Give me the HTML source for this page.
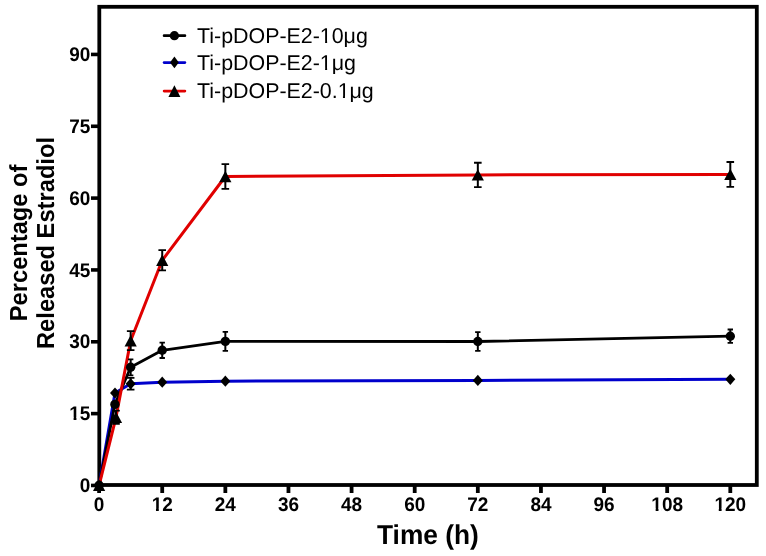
<!DOCTYPE html>
<html><head><meta charset="utf-8"><style>
html,body{margin:0;padding:0;background:#fff;}
svg{display:block;will-change:transform;}
text{font-family:"Liberation Sans",sans-serif;fill:#000;text-rendering:geometricPrecision;}
.tk{font-size:19px;font-weight:bold;}
.lg{font-size:21.4px;}
.ti{font-size:26.3px;font-weight:bold;}
.yt{font-size:23.7px;font-weight:bold;}
</style></head><body>
<svg width="766" height="556" viewBox="0 0 766 556">
<rect x="99.3" y="6.8" width="657.5" height="478.2" fill="none" stroke="#000" stroke-width="3.8"/>
<path d="M91 485.45H98" stroke="#000" stroke-width="3.6"/>
<text transform="translate(90.4 492.1) scale(1 1.04)" text-anchor="end" class="tk">0</text>
<path d="M91 413.62H98" stroke="#000" stroke-width="3.6"/>
<text transform="translate(90.4 420.27) scale(1 1.04)" text-anchor="end" class="tk">15</text>
<g transform="translate(90.4 420.27) scale(1 1.04) translate(-21.13 0) scale(0.009277)"><path d="M40 60V-300H466V60ZM771 60V-300H1135V60Z" fill="#fff"/></g>
<path d="M91 341.78H98" stroke="#000" stroke-width="3.6"/>
<text transform="translate(90.4 348.43) scale(1 1.04)" text-anchor="end" class="tk">30</text>
<path d="M91 269.94H98" stroke="#000" stroke-width="3.6"/>
<text transform="translate(90.4 276.6) scale(1 1.04)" text-anchor="end" class="tk">45</text>
<path d="M91 198.11H98" stroke="#000" stroke-width="3.6"/>
<text transform="translate(90.4 204.76) scale(1 1.04)" text-anchor="end" class="tk">60</text>
<path d="M91 126.28H98" stroke="#000" stroke-width="3.6"/>
<text transform="translate(90.4 132.93) scale(1 1.04)" text-anchor="end" class="tk">75</text>
<path d="M91 54.44H98" stroke="#000" stroke-width="3.6"/>
<text transform="translate(90.4 61.09) scale(1 1.04)" text-anchor="end" class="tk">90</text>
<path d="M99.1 486V493" stroke="#000" stroke-width="3.8"/>
<text transform="translate(99.1 511.3) scale(1 1.03)" text-anchor="middle" class="tk">0</text>
<path d="M162.22 486V493" stroke="#000" stroke-width="3.8"/>
<text transform="translate(162.22 511.3) scale(1 1.03)" text-anchor="middle" class="tk">12</text>
<g transform="translate(162.22 511.3) scale(1 1.03) translate(-10.57 0) scale(0.009277)"><path d="M40 60V-300H466V60ZM771 60V-300H1135V60Z" fill="#fff"/></g>
<path d="M225.34 486V493" stroke="#000" stroke-width="3.8"/>
<text transform="translate(225.34 511.3) scale(1 1.03)" text-anchor="middle" class="tk">24</text>
<path d="M288.46 486V493" stroke="#000" stroke-width="3.8"/>
<text transform="translate(288.46 511.3) scale(1 1.03)" text-anchor="middle" class="tk">36</text>
<path d="M351.58 486V493" stroke="#000" stroke-width="3.8"/>
<text transform="translate(351.58 511.3) scale(1 1.03)" text-anchor="middle" class="tk">48</text>
<path d="M414.7 486V493" stroke="#000" stroke-width="3.8"/>
<text transform="translate(414.7 511.3) scale(1 1.03)" text-anchor="middle" class="tk">60</text>
<path d="M477.82 486V493" stroke="#000" stroke-width="3.8"/>
<text transform="translate(477.82 511.3) scale(1 1.03)" text-anchor="middle" class="tk">72</text>
<path d="M540.94 486V493" stroke="#000" stroke-width="3.8"/>
<text transform="translate(540.94 511.3) scale(1 1.03)" text-anchor="middle" class="tk">84</text>
<path d="M604.06 486V493" stroke="#000" stroke-width="3.8"/>
<text transform="translate(604.06 511.3) scale(1 1.03)" text-anchor="middle" class="tk">96</text>
<path d="M667.18 486V493" stroke="#000" stroke-width="3.8"/>
<text transform="translate(667.18 511.3) scale(1 1.03)" text-anchor="middle" class="tk">108</text>
<g transform="translate(667.18 511.3) scale(1 1.03) translate(-15.85 0) scale(0.009277)"><path d="M40 60V-300H466V60ZM771 60V-300H1135V60Z" fill="#fff"/></g>
<path d="M730.3 486V493" stroke="#000" stroke-width="3.8"/>
<text transform="translate(730.3 511.3) scale(1 1.03)" text-anchor="middle" class="tk">120</text>
<g transform="translate(730.3 511.3) scale(1 1.03) translate(-15.85 0) scale(0.009277)"><path d="M40 60V-300H466V60ZM771 60V-300H1135V60Z" fill="#fff"/></g>
<polyline points="99.1,485.3 115,393 130.66,383.8 162.22,382.2 225.34,381.2 477.82,380.4 730.3,379.3" fill="none" stroke="#0000cc" stroke-width="3" stroke-linejoin="round"/>
<path d="M99.1 479.7L104.1 485.3L99.1 490.9L94.1 485.3Z" fill="#000"/>
<path d="M115 387.4L120 393L115 398.6L110 393Z" fill="#000"/>
<path d="M130.66 377.9V389.7" stroke="#000" stroke-width="2"/><path d="M126.86 377.9H134.46M126.86 389.7H134.46" stroke="#000" stroke-width="1.8"/>
<path d="M130.66 378.2L135.66 383.8L130.66 389.4L125.66 383.8Z" fill="#000"/>
<path d="M162.22 376.6L167.22 382.2L162.22 387.8L157.22 382.2Z" fill="#000"/>
<path d="M225.34 375.6L230.34 381.2L225.34 386.8L220.34 381.2Z" fill="#000"/>
<path d="M477.82 374.8L482.82 380.4L477.82 386L472.82 380.4Z" fill="#000"/>
<path d="M730.3 373.7L735.3 379.3L730.3 384.9L725.3 379.3Z" fill="#000"/>
<polyline points="99.1,485.3 114.9,404.4 130.66,367.3 162.22,350.3 225.34,341.4 477.82,341.5 730.3,336.2" fill="none" stroke="#000" stroke-width="2.8" stroke-linejoin="round"/>
<polyline points="99.1,485.3 116,417.3 130.66,340.7 162.22,260.3 225.34,176.5 477.82,174.9 730.3,174.4" fill="none" stroke="#e00000" stroke-width="3" stroke-linejoin="round"/>
<path d="M99.1 479.6L105.2 491L93 491Z" fill="#000"/>
<path d="M116 410.7V423.9" stroke="#000" stroke-width="2"/><path d="M112.2 410.7H119.8M112.2 423.9H119.8" stroke="#000" stroke-width="1.8"/>
<path d="M116 411.6L122.1 423L109.9 423Z" fill="#000"/>
<path d="M130.66 331.2V350.2" stroke="#000" stroke-width="2"/><path d="M126.86 331.2H134.46M126.86 350.2H134.46" stroke="#000" stroke-width="1.8"/>
<path d="M130.66 335L136.76 346.4L124.56 346.4Z" fill="#000"/>
<path d="M162.22 250.2V270.4" stroke="#000" stroke-width="2"/><path d="M158.42 250.2H166.02M158.42 270.4H166.02" stroke="#000" stroke-width="1.8"/>
<path d="M162.22 254.6L168.32 266L156.12 266Z" fill="#000"/>
<path d="M225.34 164.1V188.9" stroke="#000" stroke-width="2"/><path d="M221.54 164.1H229.14M221.54 188.9H229.14" stroke="#000" stroke-width="1.8"/>
<path d="M225.34 170.8L231.44 182.2L219.24 182.2Z" fill="#000"/>
<path d="M477.82 162.75V187.05" stroke="#000" stroke-width="2"/><path d="M474.02 162.75H481.62M474.02 187.05H481.62" stroke="#000" stroke-width="1.8"/>
<path d="M477.82 169.2L483.92 180.6L471.72 180.6Z" fill="#000"/>
<path d="M730.3 162V186.8" stroke="#000" stroke-width="2"/><path d="M726.5 162H734.1M726.5 186.8H734.1" stroke="#000" stroke-width="1.8"/>
<path d="M730.3 168.7L736.4 180.1L724.2 180.1Z" fill="#000"/>
<circle cx="99.1" cy="485.3" r="4.7" fill="#000"/>
<circle cx="114.9" cy="404.4" r="4.7" fill="#000"/>
<path d="M130.66 359.3V375.3" stroke="#000" stroke-width="2"/><path d="M127.96 359.3H133.36M127.96 375.3H133.36" stroke="#000" stroke-width="1.8"/>
<circle cx="130.66" cy="367.3" r="4.7" fill="#000"/>
<path d="M162.22 342.6V358" stroke="#000" stroke-width="2"/><path d="M159.52 342.6H164.92M159.52 358H164.92" stroke="#000" stroke-width="1.8"/>
<circle cx="162.22" cy="350.3" r="4.7" fill="#000"/>
<path d="M225.34 331.9V350.9" stroke="#000" stroke-width="2"/><path d="M222.64 331.9H228.04M222.64 350.9H228.04" stroke="#000" stroke-width="1.8"/>
<circle cx="225.34" cy="341.4" r="4.7" fill="#000"/>
<path d="M477.82 332.1V350.9" stroke="#000" stroke-width="2"/><path d="M475.12 332.1H480.52M475.12 350.9H480.52" stroke="#000" stroke-width="1.8"/>
<circle cx="477.82" cy="341.5" r="4.7" fill="#000"/>
<path d="M730.3 329.5V342.9" stroke="#000" stroke-width="2"/><path d="M727.6 329.5H733M727.6 342.9H733" stroke="#000" stroke-width="1.8"/>
<circle cx="730.3" cy="336.2" r="4.7" fill="#000"/>
<path d="M164.1 35.7H184.9" stroke="#000" stroke-width="2.7" stroke-linecap="round"/>
<circle cx="174.4" cy="35.7" r="4.65" fill="#000"/>
<text x="197" y="42.5" class="lg">Ti-pDOP-E2-10μg</text>
<g transform="translate(319.797 42.5) scale(0.010449)"><path d="M70 50V-190H509V50ZM702 50V-190H1100V50Z" fill="#fff"/></g>
<path d="M164.1 62.6H184.9" stroke="#0000cc" stroke-width="2.7" stroke-linecap="round"/>
<path d="M174.4 56.55L178.8 62.45L174.4 68.35L170 62.45Z" fill="#000"/>
<text x="197" y="69.7" class="lg">Ti-pDOP-E2-1μg</text>
<g transform="translate(319.797 69.7) scale(0.010449)"><path d="M70 50V-190H509V50ZM702 50V-190H1100V50Z" fill="#fff"/></g>
<path d="M164.1 91.1H184.9" stroke="#e00000" stroke-width="2.7" stroke-linecap="round"/>
<path d="M174.4 85.3L180.4 96.9L168.4 96.9Z" fill="#000"/>
<text x="197" y="97.6" class="lg">Ti-pDOP-E2-0.1μg</text>
<g transform="translate(337.641 97.6) scale(0.010449)"><path d="M70 50V-190H509V50ZM702 50V-190H1100V50Z" fill="#fff"/></g>
<text transform="translate(427.9 544) scale(1 1.04)" text-anchor="middle" class="ti">Time (h)</text>
<text transform="translate(26.6 242.9) rotate(-90) scale(1 1.04)" text-anchor="middle" class="yt">Percentage of</text>
<text transform="translate(54.4 243) rotate(-90) scale(1 1.04)" text-anchor="middle" class="yt">Released Estradiol</text>
</svg>
</body></html>
